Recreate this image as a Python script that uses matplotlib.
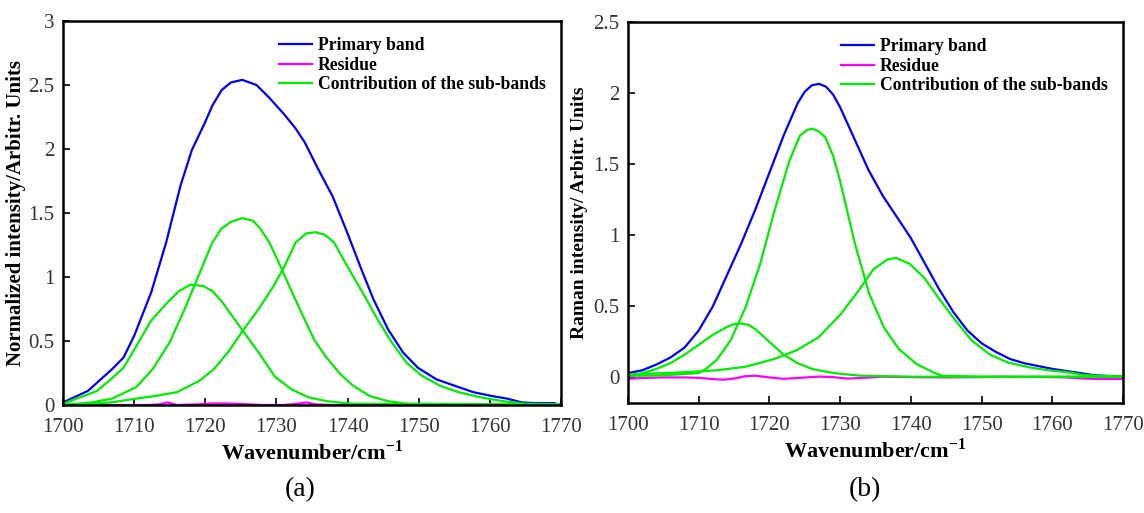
import numpy as np
import matplotlib
matplotlib.use('Agg')
import matplotlib.pyplot as plt
from matplotlib.ticker import FormatStrFormatter

plt.rcParams['font.family'] = ['Liberation Serif', 'DejaVu Serif']
plt.rcParams['mathtext.fontset'] = 'custom'
plt.rcParams['mathtext.rm'] = 'Liberation Serif'
plt.rcParams['mathtext.bf'] = 'Liberation Serif:bold'

# ---- panel (a) : normalized intensity ----
xa_blue = [1700, 1703.5, 1706.9, 1708.5, 1710, 1712.4, 1714.5, 1716.5, 1718.1, 1719.9, 1721, 1722.3,
           1723.6, 1725.2, 1727.2, 1729, 1731.1, 1732.7, 1734, 1735.8, 1737.9, 1740, 1741.8, 1743.6,
           1745.7, 1747.8, 1749.9, 1752.5, 1755.6, 1757.7, 1760.3, 1762.4, 1764.5, 1766.3, 1769.1]
ya_blue = [0.02, 0.11, 0.28, 0.37, 0.54, 0.88, 1.27, 1.71, 1.99, 2.2, 2.34, 2.46,
           2.52, 2.54, 2.5, 2.4, 2.27, 2.16, 2.05, 1.85, 1.63, 1.34, 1.08, 0.83,
           0.59, 0.41, 0.29, 0.2, 0.14, 0.1, 0.07, 0.05, 0.02, 0.015, 0.015]

xa_g1 = [1700, 1704.8, 1706.7, 1708.5, 1710.3, 1712.4, 1714.5, 1716.3, 1717.9, 1719.7, 1721, 1722.3,
         1723.6, 1725.4, 1727.5, 1729.8, 1732.2, 1734.5, 1737.1, 1740.5, 1750, 1760, 1770]
ya_g1 = [0.01, 0.11, 0.2, 0.29, 0.46, 0.66, 0.79, 0.89, 0.94, 0.93, 0.89, 0.81,
         0.71, 0.57, 0.41, 0.22, 0.12, 0.06, 0.03, 0.01, 0.005, 0.005, 0.005]

xa_g2 = [1700, 1704, 1706.9, 1710.3, 1712.6, 1715, 1717.1, 1719.2, 1721, 1722.3, 1723.6, 1725.2,
         1726.7, 1727.7, 1729, 1730.6, 1732.2, 1733.7, 1735.3, 1736.9, 1739, 1740.8, 1743.1, 1745.7,
         1748.3, 1760, 1770]
ya_g2 = [0.0, 0.02, 0.05, 0.14, 0.28, 0.49, 0.75, 1.03, 1.27, 1.38, 1.43, 1.46,
         1.44, 1.38, 1.27, 1.08, 0.88, 0.7, 0.51, 0.38, 0.24, 0.15, 0.07, 0.03,
         0.01, 0.005, 0.005]

xa_g3 = [1700, 1706.7, 1710.3, 1712.9, 1716, 1719.2, 1721.2, 1723.3, 1725.4, 1727.5, 1729.6, 1731.1,
         1732.7, 1734.2, 1735.5, 1736.8, 1738.1, 1740, 1742.1, 1744.2, 1746.2, 1748.3, 1750.4, 1753,
         1755.6, 1758.7, 1761.8, 1764.9, 1770]
ya_g3 = [0.0, 0.02, 0.05, 0.07, 0.1, 0.19, 0.28, 0.42, 0.59, 0.75, 0.93, 1.08,
         1.27, 1.34, 1.35, 1.33, 1.27, 1.08, 0.88, 0.67, 0.49, 0.33, 0.23, 0.15,
         0.1, 0.06, 0.03, 0.01, 0.005]

xa_res = [1700, 1703, 1706, 1709, 1712, 1713.5, 1714.7, 1716, 1719, 1721, 1723, 1725, 1728, 1731,
          1733, 1734.2, 1735.5, 1738, 1742, 1746, 1750, 1755, 1760, 1765, 1770]
ya_res = [0.0, 0.005, 0.0, 0.0, 0.0, 0.005, 0.02, 0.0, 0.005, 0.012, 0.012, 0.008, 0.0, 0.0,
          0.01, 0.02, 0.005, 0.0, 0.003, 0.0, 0.0, 0.002, 0.003, 0.0, 0.0]

# ---- panel (b) : Raman intensity ----
xb_blue = [1700, 1702, 1704, 1706, 1708, 1710, 1712, 1714, 1716, 1718, 1720, 1722, 1724, 1725,
           1726, 1727, 1728, 1729, 1730, 1732, 1734, 1736, 1738, 1740, 1742, 1744, 1746, 1748,
           1750, 1752, 1754, 1756, 1758, 1760, 1762, 1764, 1766, 1768, 1770]
yb_blue = [0.03, 0.05, 0.09, 0.14, 0.21, 0.33, 0.5, 0.72, 0.94, 1.18, 1.44, 1.7, 1.93, 2.01,
           2.055, 2.065, 2.045, 1.99, 1.9, 1.68, 1.46, 1.28, 1.13, 0.98, 0.8, 0.62, 0.46, 0.33,
           0.24, 0.18, 0.13, 0.1, 0.08, 0.06, 0.045, 0.03, 0.015, 0.01, 0.008]

xb_g1 = [1700, 1702, 1704, 1706, 1708, 1710, 1712, 1714, 1715, 1716, 1717, 1718, 1720, 1722,
         1724, 1726, 1728, 1730, 1733, 1740, 1750, 1760, 1770]
yb_g1 = [0.01, 0.03, 0.06, 0.1, 0.16, 0.23, 0.3, 0.355, 0.375, 0.38, 0.37, 0.34, 0.25, 0.16,
         0.1, 0.06, 0.04, 0.025, 0.012, 0.005, 0.004, 0.004, 0.004]

xb_g2 = [1700, 1705, 1710, 1711, 1712.5, 1714.5, 1716.6, 1718.7, 1720.7, 1722.8, 1724.3, 1725.3,
         1726.1, 1727, 1727.9, 1729, 1730, 1732.1, 1734.1, 1736.2, 1738.3, 1740.8, 1743.4, 1744.5,
         1750, 1760, 1770]
yb_g2 = [0.01, 0.015, 0.03, 0.06, 0.12, 0.26, 0.49, 0.8, 1.17, 1.52, 1.7, 1.74,
         1.75, 1.73, 1.69, 1.56, 1.38, 0.94, 0.59, 0.35, 0.2, 0.094, 0.03, 0.012,
         0.005, 0.005, 0.005]

xb_g3 = [1700, 1704, 1707.3, 1710, 1712.5, 1716.6, 1720.7, 1723.8, 1726.9, 1730, 1732.6, 1734.7,
         1736.7, 1737.9, 1739.8, 1741.9, 1743.9, 1746, 1748.6, 1751.2, 1753.7, 1756.8, 1759.9,
         1762.5, 1764, 1766.1, 1770]
yb_g3 = [0.02, 0.028, 0.035, 0.042, 0.05, 0.075, 0.13, 0.19, 0.28, 0.44, 0.61, 0.76,
         0.83, 0.84, 0.8, 0.7, 0.56, 0.42, 0.26, 0.16, 0.105, 0.07, 0.047,
         0.035, 0.02, 0.012, 0.007]

xb_res = [1700, 1702, 1705, 1708, 1710, 1712, 1713.5, 1715, 1716.5, 1718, 1720, 1722, 1724,
          1727, 1729, 1731, 1733, 1736, 1740, 1745, 1750, 1753, 1756, 1758, 1762, 1764, 1766, 1770]
yb_res = [-0.01, -0.004, 0.0, 0.0, -0.003, -0.012, -0.016, -0.008, 0.008, 0.012, 0.0, -0.01, -0.004,
          0.006, 0.002, -0.008, -0.004, 0.005, 0.002, 0.0, 0.002, 0.005, 0.002, 0.004, 0.0, -0.006,
          -0.011, -0.011]

blue = '#0000ff'
mag = '#ff00ff'
grn = '#00ee00'
lw = 1.6

fig = plt.figure(figsize=(11.44, 5.13), dpi=100)
ax1 = fig.add_axes([63 / 1144, 108 / 513, 498 / 1144, 384 / 513])
ax2 = fig.add_axes([628 / 1144, 110 / 513, 495 / 1144, 381 / 513])

ax1.plot(xa_blue, ya_blue, color=blue, lw=lw, label='Primary band')
ax1.plot(xa_res, ya_res, color=mag, lw=lw, label='Residue')
ax1.plot(xa_g1, ya_g1, color=grn, lw=lw, label='Contribution of the sub-bands')
ax1.plot(xa_g2, ya_g2, color=grn, lw=lw)
ax1.plot(xa_g3, ya_g3, color=grn, lw=lw)
ax1.set_ylim(0, 3)
ax1.set_yticks(np.arange(0, 3.01, 0.5))
ax1.set_ylabel('Normalized intensity/Arbitr. Units', fontsize=15, fontweight='bold', labelpad=2)

ax2.plot(xb_blue, yb_blue, color=blue, lw=lw, label='Primary band')
ax2.plot(xb_res, yb_res, color=mag, lw=lw, label='Residue')
ax2.plot(xb_g1, yb_g1, color=grn, lw=lw, label='Contribution of the sub-bands')
ax2.plot(xb_g2, yb_g2, color=grn, lw=lw)
ax2.plot(xb_g3, yb_g3, color=grn, lw=lw)
ax2.set_ylim(-0.18, 2.5)
ax2.set_yticks(np.arange(0, 2.51, 0.5))
ax2.set_ylabel('Raman intensity/ Arbitr. Units', fontsize=14, fontweight='bold', labelpad=4)

for ax in (ax1, ax2):
    ax.set_xlim(1700, 1770)
    ax.set_xticks(np.arange(1700, 1771, 10))
    ax.yaxis.set_major_formatter(FormatStrFormatter('%g'))
    ax.tick_params(direction='in', labelsize=15, length=5, width=1.2, colors='black',
                   labelcolor='#333333')
    ax.tick_params(axis='x', pad=9)
    ax.tick_params(axis='y', pad=6)
    for s in ax.spines.values():
        s.set_linewidth(1.8)
    ax.set_xlabel(r'Wavenumber/cm$^{\mathbf{-1}}$', fontsize=16, fontweight='bold', labelpad=3)
    ax.legend(loc='upper right', frameon=False, prop={'weight': 'bold', 'size': 12.7},
              handlelength=1.85, handletextpad=0.35, labelspacing=0.14,
              bbox_to_anchor=(0.99, 0.985), borderaxespad=0.2)

fig.text(300 / 1144, 1 - 490 / 513, '(a)', fontsize=20, ha='center', va='center')
fig.text(865 / 1144, 1 - 490 / 513, '(b)', fontsize=20, ha='center', va='center')

fig.savefig('out.png', dpi=100)
